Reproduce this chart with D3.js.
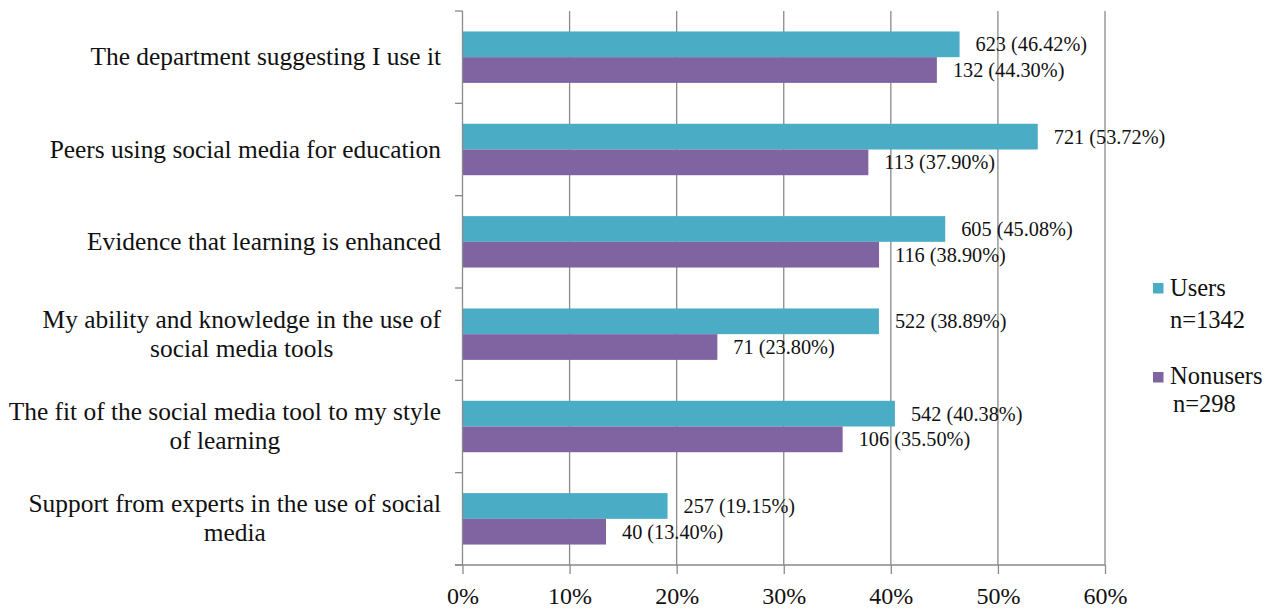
<!DOCTYPE html>
<html>
<head>
<meta charset="utf-8">
<script src="https://cdn.jsdelivr.net/npm/d3@7/dist/d3.min.js"></script>
<style>
  html, body { margin: 0; padding: 0; background: #fff; }
  svg { display: block; font-family: "Liberation Serif", "Times New Roman", serif; }
</style>
</head>
<body>
<svg id="chart" width="1277" height="610"></svg>
<script>
// ---- data ----
const categories = [
  "The department suggesting I use it",
  "Peers using social media for education",
  "Evidence that learning is enhanced",
  "My ability and knowledge in the use of\nsocial media tools",
  "The fit of the social media tool to my style\nof learning",
  "Support from experts in the use of social\nmedia"
];
const seriesNames = ["Users", "Nonusers"];
const seriesSizes = ["n=1342", "n=298"];
const usersCounts = [623, 721, 605, 522, 542, 257];
const usersPct = [46.42, 53.72, 45.08, 38.89, 40.38, 19.15];
const nonusersCounts = [132, 113, 116, 71, 106, 40];
const nonusersPct = [44.30, 37.90, 38.90, 23.80, 35.50, 13.40];
const xTicks = [0, 10, 20, 30, 40, 50, 60];
const xTickLabels = ["0%", "10%", "20%", "30%", "40%", "50%", "60%"];

const colors = { Users: "#4BACC6", Nonusers: "#8064A2" };
const gridColor = "#8a8a8a";

const svg = d3.select("#chart");

const x = d3.scaleLinear().domain([0, 60]).range([462.5, 1105]);
const yCat = d3.scaleBand().domain(categories).range([11, 565]).padding(0);
const ySeries = d3.scaleBand().domain(seriesNames)
  .range([yCat.bandwidth() * 0.2215, yCat.bandwidth() * (1 - 0.2215)]).padding(0);

const series = [
  { name: "Users", counts: usersCounts, pct: usersPct },
  { name: "Nonusers", counts: nonusersCounts, pct: nonusersPct }
];

// gridlines
svg.append("g").selectAll("line")
  .data(xTicks.slice(1))
  .join("line")
  .attr("x1", d => x(d)).attr("x2", d => x(d))
  .attr("y1", 11).attr("y2", 565)
  .attr("stroke", gridColor).attr("stroke-width", 1.3);

// bars
series.forEach(s => {
  svg.append("g").selectAll("rect")
    .data(categories.map((c, i) => ({ c, v: s.pct[i], n: s.counts[i] })))
    .join("rect")
    .attr("x", x(0))
    .attr("y", d => yCat(d.c) + ySeries(s.name))
    .attr("width", d => x(d.v) - x(0))
    .attr("height", ySeries.bandwidth())
    .attr("fill", colors[s.name]);
});

// data labels
series.forEach(s => {
  svg.append("g").selectAll("text")
    .data(categories.map((c, i) => ({ c, v: s.pct[i], n: s.counts[i] })))
    .join("text")
    .attr("x", d => x(d.v) + 16)
    .attr("y", d => yCat(d.c) + ySeries(s.name) + ySeries.bandwidth() / 2 + 7)
    .attr("font-size", 20.3)
    .attr("fill", "#111")
    .text(d => `${d.n} (${d.v.toFixed(2)}%)`);
});

// bottom axis
const xAxis = d3.axisBottom(x)
  .tickValues(xTicks)
  .tickFormat((d, i) => xTickLabels[i])
  .tickSize(9)
  .tickSizeOuter(0);
const gx = svg.append("g").attr("transform", "translate(0,565)").call(xAxis);
gx.select(".domain").remove();
gx.selectAll(".tick line").attr("stroke", gridColor).attr("stroke-width", 1.3);
gx.selectAll(".tick text")
  .attr("y", 22)
  .attr("font-size", 24)
  .attr("font-family", "Liberation Serif, Times New Roman, serif")
  .attr("fill", "#111");
svg.append("line")
  .attr("x1", 455).attr("x2", x(60))
  .attr("y1", 565).attr("y2", 565)
  .attr("stroke", gridColor).attr("stroke-width", 1.3);

// left axis line + category boundary ticks
svg.append("line")
  .attr("x1", x(0)).attr("x2", x(0))
  .attr("y1", 11).attr("y2", 565)
  .attr("stroke", gridColor).attr("stroke-width", 1.3);
const bounds = categories.map(c => yCat(c)).concat([yCat.range()[1]]);
svg.append("g").selectAll("line")
  .data(bounds)
  .join("line")
  .attr("x1", 455).attr("x2", x(0))
  .attr("y1", d => d).attr("y2", d => d)
  .attr("stroke", gridColor).attr("stroke-width", 1.3);

// category labels (wrapped block, right aligned, lines centred)
const labelRight = 441;
const lineH = 29;
const gl = svg.append("g");
categories.forEach(c => {
  const lines = c.split("\n");
  const g = gl.append("g");
  const texts = lines.map(l => g.append("text")
    .attr("font-size", 25.4)
    .attr("fill", "#111")
    .attr("text-anchor", "middle")
    .text(l));
  const w = d3.max(texts, t => t.node().getComputedTextLength());
  const cx = labelRight - w / 2;
  const mid = yCat(c) + yCat.bandwidth() / 2 + 8;
  const first = mid - (lines.length - 1) * lineH / 2;
  texts.forEach((t, i) => t.attr("x", cx).attr("y", first + i * lineH));
});

// legend
const legend = [
  { name: seriesNames[0], size: seriesSizes[0], sqY: 283, tY: 296, nY: 328, nX: 1170 },
  { name: seriesNames[1], size: seriesSizes[1], sqY: 372, tY: 384, nY: 412, nX: 1173 }
];
const lg = svg.append("g");
legend.forEach(l => {
  lg.append("rect").attr("x", 1153).attr("y", l.sqY).attr("width", 10.5).attr("height", 10.5)
    .attr("fill", colors[l.name]);
  lg.append("text").attr("x", 1170).attr("y", l.tY).attr("font-size", 24.5).attr("fill", "#111").text(l.name);
  lg.append("text").attr("x", l.nX).attr("y", l.nY).attr("font-size", 24.5).attr("fill", "#111").text(l.size);
});
</script>
</body>
</html>
